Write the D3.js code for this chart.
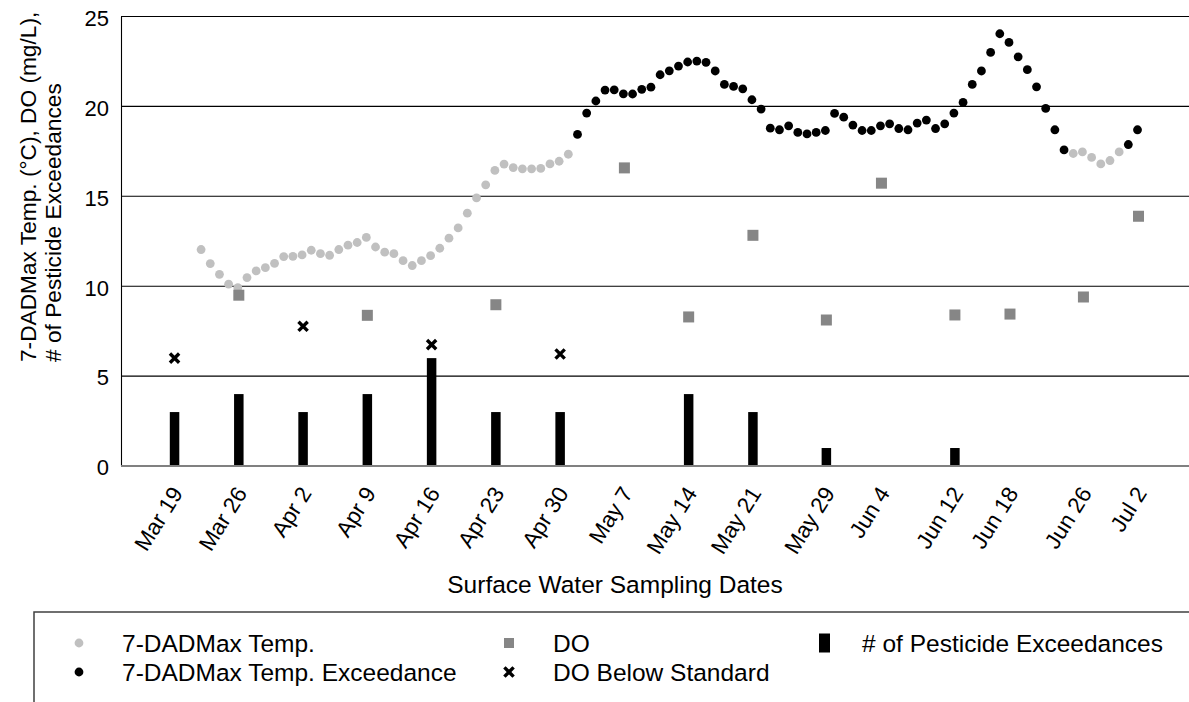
<!DOCTYPE html>
<html>
<head>
<meta charset="utf-8">
<script src="https://cdn.jsdelivr.net/npm/d3@7"></script>
<style>
  html, body { margin: 0; padding: 0; background: #fff; }
  text { font-family: "Liberation Sans", Arial, sans-serif; fill: #000; }
</style>
</head>
<body>
<svg id="chart" width="1189" height="702"></svg>
<script>
// ---------------- DATA ----------------
const samplingDates = ["2019-03-19","2019-03-26","2019-04-02","2019-04-09","2019-04-16","2019-04-23","2019-04-30","2019-05-07","2019-05-14","2019-05-21","2019-05-29","2019-06-04","2019-06-12","2019-06-18","2019-06-26","2019-07-02"];
const tickLabels = ["Mar 19","Mar 26","Apr 2","Apr 9","Apr 16","Apr 23","Apr 30","May 7","May 14","May 21","May 29","Jun 4","Jun 12","Jun 18","Jun 26","Jul 2"];
const pesticideExceedances = [3,4,3,4,6,3,3,0,4,3,1,0,1,0,0,0];

const doDates = ["2019-03-26","2019-04-09","2019-04-23","2019-05-07","2019-05-14","2019-05-21","2019-05-29","2019-06-04","2019-06-12","2019-06-18","2019-06-26","2019-07-02"];
const doValues = [9.5,8.38,8.97,16.58,8.29,12.83,8.12,15.73,8.40,8.45,9.40,13.89];

const doBelowDates = ["2019-03-19","2019-04-02","2019-04-16","2019-04-30"];
const doBelowValues = [6.0,7.77,6.75,6.23];

// daily 7-DADMax temperature starting Mar 22
const tempStart = "2019-03-22";
const tempValues = [12.04,11.26,10.66,10.11,9.92,10.48,10.85,11.03,11.27,11.65,
  11.66,11.74,12.00,11.81,11.72,12.04,12.28,12.43,12.71,12.18,
  11.89,11.81,11.42,11.15,11.42,11.70,12.11,12.67,13.24,14.06,
  14.91,15.64,16.44,16.79,16.60,16.53,16.53,16.55,16.80,16.95,
  17.34,18.44,19.63,20.30,20.91,20.92,20.70,20.69,20.95,21.07,
  21.76,21.98,22.24,22.47,22.52,22.45,21.97,21.22,21.11,20.98,
  20.37,19.85,18.79,18.70,18.92,18.55,18.47,18.55,18.66,19.61,
  19.40,18.96,18.66,18.66,18.92,19.03,18.77,18.70,19.07,19.24,
  18.77,19.03,19.63,20.22,21.22,21.97,23.00,24.04,23.56,22.76,
  22.04,21.09,19.89,18.70,17.58,17.38,17.47,17.16,16.80,16.99,
  17.47,17.88,18.70];
// 1 = exceedance (black), 0 = normal (grey)
const tempExceed = [0,0,0,0,0,0,0,0,0,0,
  0,0,0,0,0,0,0,0,0,0,
  0,0,0,0,0,0,0,0,0,0,
  0,0,0,0,0,0,0,0,0,0,
  0,1,1,1,1,1,1,1,1,1,
  1,1,1,1,1,1,1,1,1,1,
  1,1,1,1,1,1,1,1,1,1,
  1,1,1,1,1,1,1,1,1,1,
  1,1,1,1,1,1,1,1,1,1,
  1,1,1,1,1,0,0,0,0,0,
  0,1,1];

const yTicks = [0,5,10,15,20,25];

// ---------------- LAYOUT ----------------
const svg = d3.select("#chart");
const W = 1189, H = 702;
const plot = { left: 121, right: 1189, top: 16.5, bottom: 466 };
const parse = d3.utcParse("%Y-%m-%d");
const DAY = 86400000;
const FONT = "Liberation Sans, Arial, sans-serif";

const x = d3.scaleUtc()
  .domain([new Date(Date.UTC(2019,2,13,4)), new Date(Date.UTC(2019,6,7,12))])
  .range([plot.left, plot.right]);
const y = d3.scaleLinear().domain([0,25]).range([plot.bottom, plot.top]);

svg.append("rect").attr("width", W).attr("height", H).attr("fill", "#fff");

// gridlines
svg.append("g").selectAll("line").data(yTicks.filter(d => d > 0)).join("line")
  .attr("x1", plot.left).attr("x2", plot.right)
  .attr("y1", d => y(d)).attr("y2", d => y(d))
  .attr("stroke", "#000").attr("stroke-width", 1.1);

// y axis
const yAxis = d3.axisLeft(y).tickValues(yTicks).tickSize(0).tickPadding(12);
const yg = svg.append("g").attr("transform", `translate(${plot.left},0)`).call(yAxis);
yg.select(".domain").attr("stroke", "#000").attr("stroke-width", 1.1);
yg.selectAll("text").attr("font-size", 22).attr("font-family", FONT).attr("dy", "0.4em");

// x axis (bottom line + labels)
const tickDates = samplingDates.map(parse);
const xAxis = d3.axisBottom(x).tickValues(tickDates).tickSize(0)
  .tickFormat((d, i) => tickLabels[i]);
const xg = svg.append("g").attr("transform", `translate(0,${plot.bottom})`).call(xAxis);
xg.select(".domain").attr("stroke", "#808080").attr("stroke-width", 2)
  .attr("d", `M${plot.left},0H${plot.right}`);
xg.selectAll(".tick text")
  .attr("font-size", 22.5).attr("font-family", FONT)
  .attr("text-anchor", "end")
  .attr("y", 0).attr("dy", "0.35em")
  .attr("transform", "translate(2,23) rotate(-58)");

// bars
const barW = 9.5;
svg.append("g").selectAll("rect").data(samplingDates.map((d,i) => ({d: parse(d), v: pesticideExceedances[i]})).filter(o => o.v > 0))
  .join("rect")
  .attr("x", o => x(o.d) - barW/2).attr("width", barW)
  .attr("y", o => y(o.v)).attr("height", o => y(0) - y(o.v) - 1)
  .attr("fill", "#000");

// temperature dots
const t0 = parse(tempStart);
const tempData = tempValues.map((v, i) => ({d: new Date(t0.getTime() + i*DAY), v, ex: tempExceed[i]}));
svg.append("g").selectAll("circle").data(tempData).join("circle")
  .attr("cx", o => x(o.d) - 1).attr("cy", o => y(o.v)).attr("r", 4.4)
  .attr("fill", o => o.ex ? "#000" : "#c0c0c0");

// DO squares
const sq = 11;
svg.append("g").selectAll("rect").data(doDates.map((d,i) => ({d: parse(d), v: doValues[i]})))
  .join("rect")
  .attr("x", o => x(o.d) - sq/2).attr("y", o => y(o.v) - sq/2)
  .attr("width", sq).attr("height", sq).attr("fill", "#868686");

// DO below standard X markers
const xm = 4.6;
const xPath = (cx, cy) => `M${cx-xm},${cy-xm}L${cx+xm},${cy+xm}M${cx-xm},${cy+xm}L${cx+xm},${cy-xm}`;
svg.append("g").selectAll("path").data(doBelowDates.map((d,i) => ({d: parse(d), v: doBelowValues[i]})))
  .join("path")
  .attr("d", o => xPath(x(o.d), y(o.v)))
  .attr("stroke", "#000").attr("stroke-width", 3.4).attr("fill", "none");

// axis titles
const yt = svg.append("text").attr("font-size", 22.7).attr("text-anchor", "start")
  .attr("transform", "translate(36,362) rotate(-90)");
yt.append("tspan").attr("x", 0).attr("y", 0).text("7-DADMax Temp. (°C), DO (mg/L),");
yt.append("tspan").attr("x", 0).attr("y", 25).text("# of Pesticide Exceedances");

svg.append("text").attr("font-size", 24.5).attr("text-anchor", "middle")
  .attr("x", 615).attr("y", 593).text("Surface Water Sampling Dates");

// legend
const lg = svg.append("g");
lg.append("path").attr("d", `M34,${H}V612H${W}`).attr("fill", "none")
  .attr("stroke", "#404040").attr("stroke-width", 1.5);
const row1 = 643, row2 = 672;
const lgFont = 24.5;
lg.append("circle").attr("cx", 79).attr("cy", row1).attr("r", 4.4).attr("fill", "#c0c0c0");
lg.append("circle").attr("cx", 79).attr("cy", row2).attr("r", 4.4).attr("fill", "#000");
lg.append("rect").attr("x", 509 - 5).attr("y", row1 - 5).attr("width", 10).attr("height", 10).attr("fill", "#868686");
lg.append("path").attr("d", xPath(509, row2)).attr("stroke", "#000").attr("stroke-width", 3.4).attr("fill", "none");
lg.append("rect").attr("x", 819).attr("y", row1 - 9.5).attr("width", 11).attr("height", 19).attr("fill", "#000");
const lgItems = [
  {t: "7-DADMax Temp.", x: 122, y: row1},
  {t: "7-DADMax Temp. Exceedance", x: 122, y: row2},
  {t: "DO", x: 553, y: row1},
  {t: "DO Below Standard", x: 553, y: row2},
  {t: "# of Pesticide Exceedances", x: 862, y: row1}
];
lg.selectAll("text.lg").data(lgItems).join("text").attr("class", "lg")
  .attr("x", o => o.x).attr("y", o => o.y).attr("dy", "0.35em")
  .attr("font-size", lgFont).text(o => o.t);
</script>
</body>
</html>
